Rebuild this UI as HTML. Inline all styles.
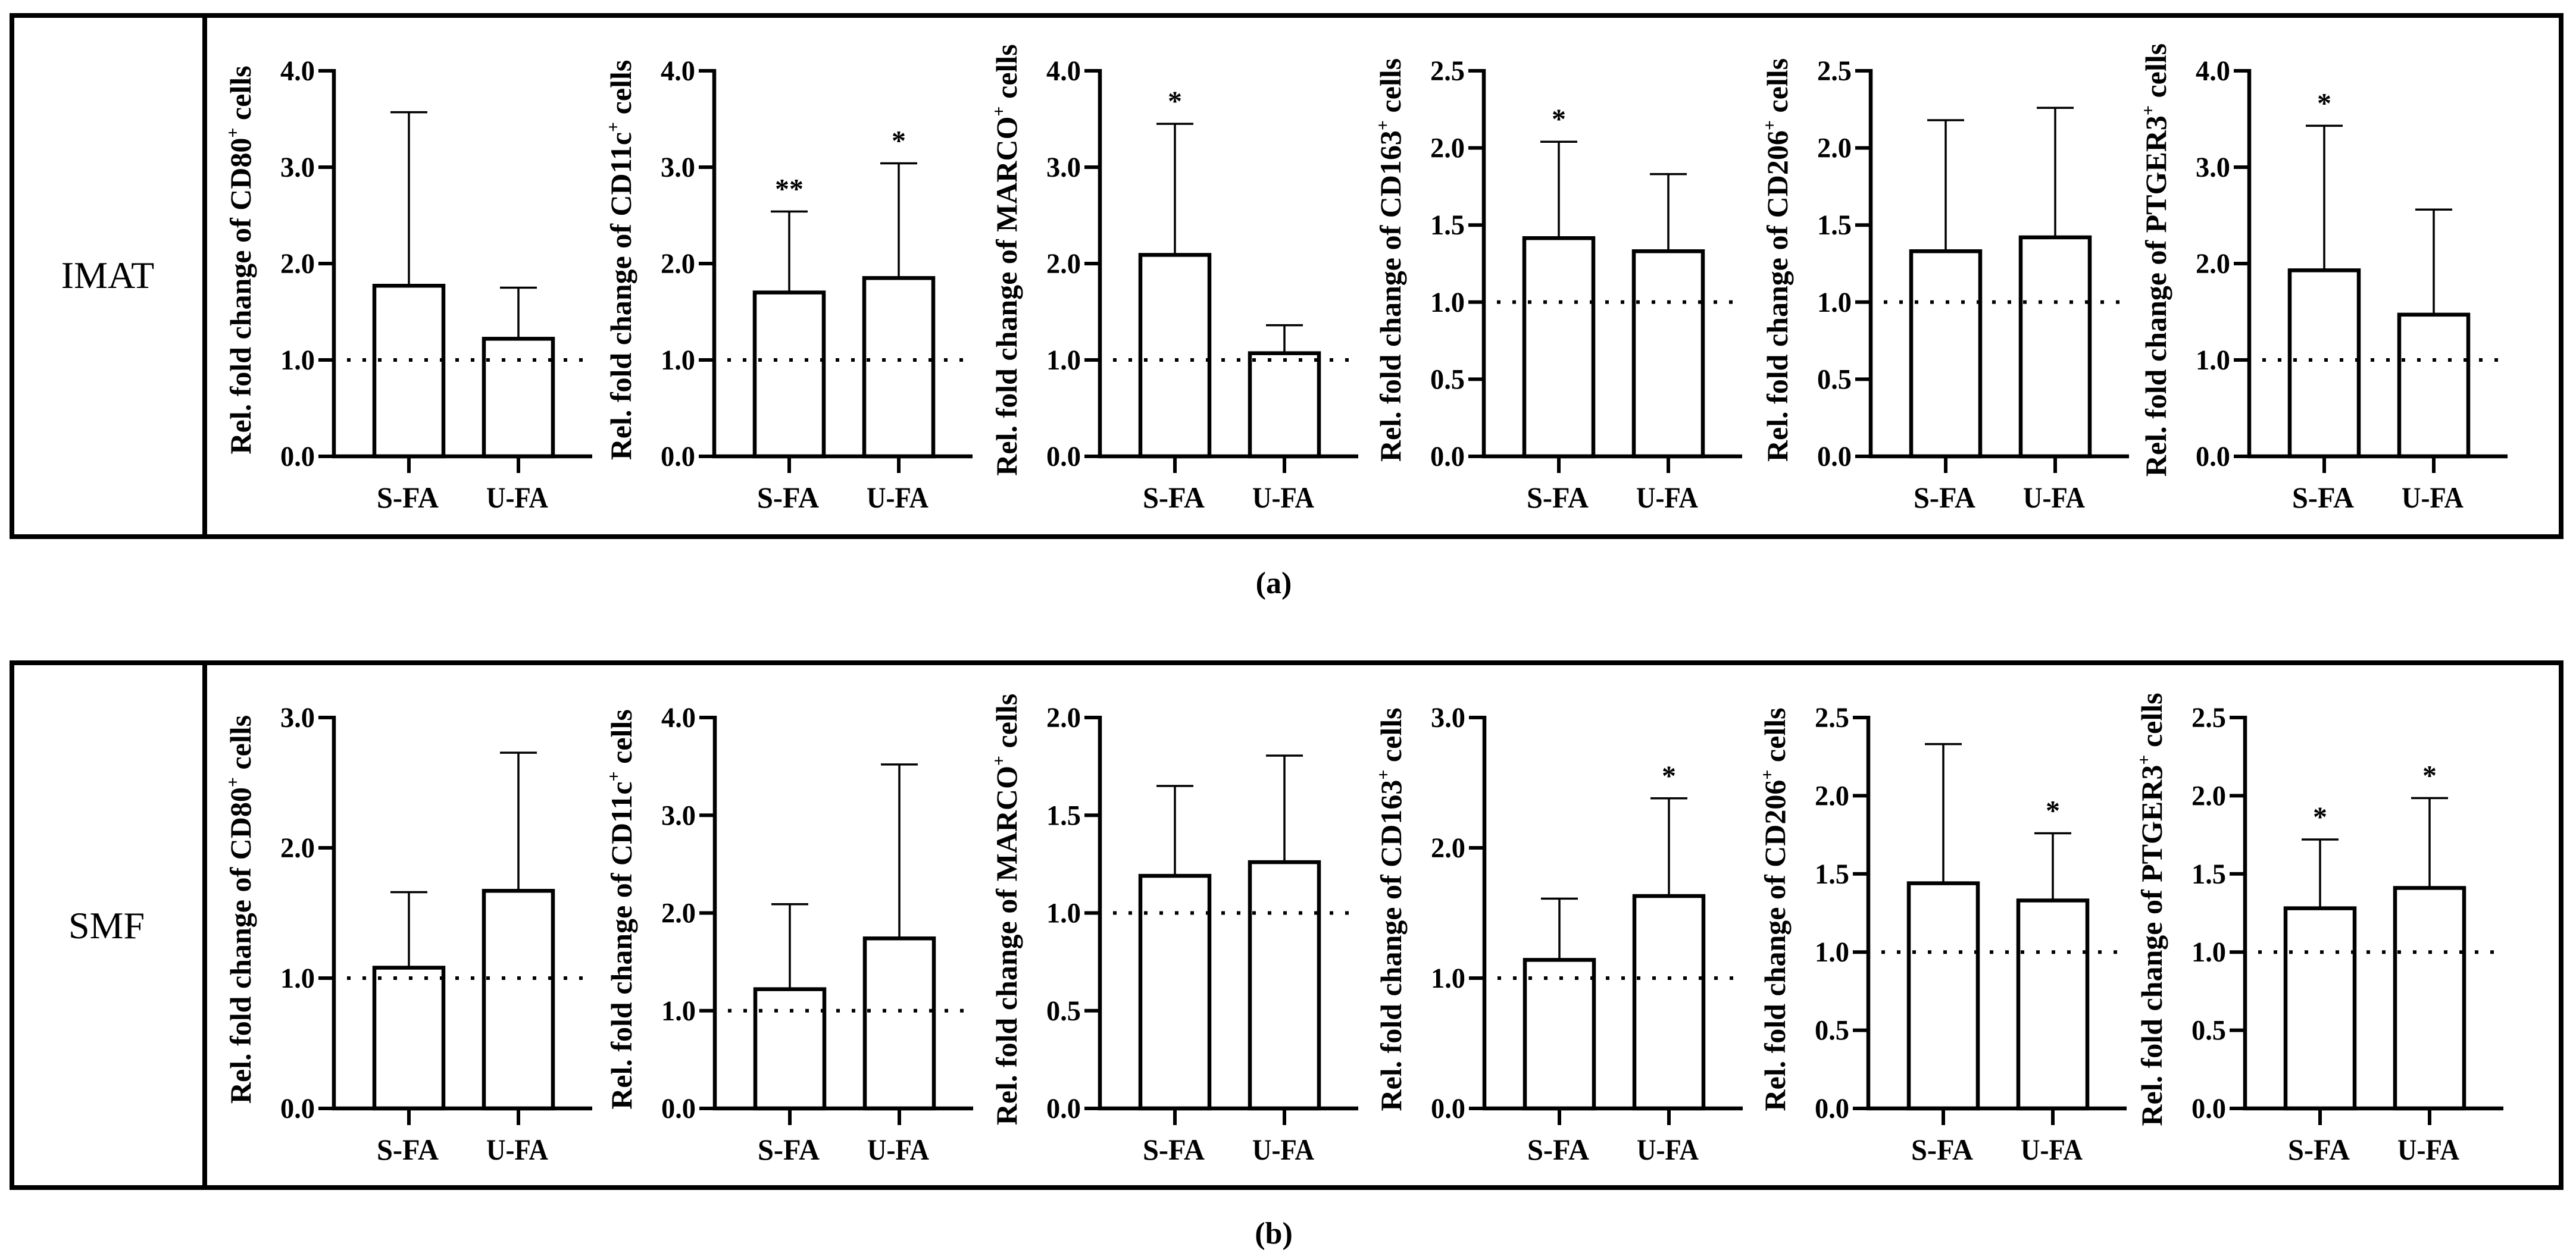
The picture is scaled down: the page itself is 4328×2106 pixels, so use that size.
<!DOCTYPE html>
<html><head><meta charset="utf-8">
<style>
html,body{margin:0;padding:0;background:#fff;}
svg{display:block;}
text{font-family:"Liberation Serif",serif;fill:#000;}
</style></head>
<body>
<svg id="fig" width="4328" height="2106" viewBox="0 0 4328 2106" xmlns="http://www.w3.org/2000/svg">
  <rect x="20" y="26" width="4283" height="876" fill="none" stroke="#000" stroke-width="8"/>
  <line x1="344" y1="26" x2="344" y2="902" stroke="#000" stroke-width="8"/>
  <text x="181" y="484" font-size="64" text-anchor="middle">IMAT</text>
  <text x="2140" y="997" font-size="52" font-weight="bold" text-anchor="middle">(a)</text>
  <rect x="20" y="1114" width="4283" height="882" fill="none" stroke="#000" stroke-width="8"/>
  <line x1="344" y1="1114" x2="344" y2="1996" stroke="#000" stroke-width="8"/>
  <text x="179" y="1577" font-size="64" text-anchor="middle">SMF</text>
  <text x="2140" y="2090" font-size="52" font-weight="bold" text-anchor="middle">(b)</text>
</svg>
<script>
const categories = ["S-FA","U-FA"];
const markers = ["CD80","CD11c","MARCO","CD163","CD206","PTGER3"];
// IMAT row
const imatMeans = [[1.77,1.22],[1.70,1.85],[2.09,1.07],[1.415,1.33],[1.33,1.42],[1.93,1.47]];
const imatErrTop = [[3.57,1.75],[2.54,3.04],[3.45,1.36],[2.04,1.83],[2.18,2.26],[3.43,2.56]];
const imatStars = [["",""],["**","*"],["*",""],["*",""],["",""],["*",""]];
const imatYMax = [4,4,4,2.5,2.5,4];
const imatYStep = [1,1,1,0.5,0.5,1];
// SMF row
const smfMeans = [[1.08,1.67],[1.22,1.74],[1.19,1.26],[1.14,1.63],[1.44,1.33],[1.28,1.41]];
const smfErrTop = [[1.66,2.73],[2.09,3.52],[1.65,1.805],[1.61,2.38],[2.33,1.76],[1.72,1.985]];
const smfStars = [["",""],["",""],["",""],["","*"],["","*"],["*","*"]];
const smfYMax = [3,4,2,3,2.5,2.5];
const smfYStep = [1,1,0.5,1,0.5,0.5];

const NS = "http://www.w3.org/2000/svg";
const svg = document.getElementById("fig");
function mk(tag, attrs, parent){
  const e = document.createElementNS(NS, tag);
  for (const k in attrs) e.setAttribute(k, attrs[k]);
  (parent||svg).appendChild(e);
  return e;
}

function drawRow(rowName, axesX, y0, yTop, means, errs, stars, ymaxs, steps){
  for (let p = 0; p < 6; p++){
    const ax = axesX[p];
    const g = mk("g", {});
    
    
    const ymax = ymaxs[p];
    const yScale = v => y0 - (v / ymax) * (y0 - yTop);
    const xCenter = i => ax + 126 + i * 184;
    const ref = mk("line", {x1: ax + 22, x2: ax + 434, y1: yScale(1), y2: yScale(1), stroke: "#000", "stroke-width": 6, "stroke-dasharray": "6 20"}, g);
    
    
    for (let i = 0; i < 2; i++){
      const cx = xCenter(i);
      const yt = yScale(means[p][i]);
      const ye = yScale(errs[p][i]);
      const err = mk("line", {x1: cx, x2: cx, y1: yt, y2: ye, stroke: "#000", "stroke-width": 3.5}, g);
      
      
      const cap = mk("line", {x1: cx - 31, x2: cx + 31, y1: ye, y2: ye, stroke: "#000", "stroke-width": 3.5}, g);
      
      
      const bar = mk("rect", {x: cx - 58, y: yt, width: 116, height: y0 - yt, fill: "none", stroke: "#000", "stroke-width": 6.5}, g);
      
      
      if (stars[p][i]){
        const st = mk("text", {x: cx, y: ye - 22, "font-size": 48, "font-weight": "bold", "text-anchor": "middle"}, g);
        st.textContent = stars[p][i];
        
        
      }
      const xt = mk("line", {x1: cx, x2: cx, y1: y0, y2: y0 + 28, stroke: "#000", "stroke-width": 6}, g);
      
      
      const xl = mk("text", {x: cx - 2, y: y0 + 86, "font-size": 50, "font-weight": "bold", "text-anchor": "middle", textLength: 104, lengthAdjust: "spacingAndGlyphs"}, g);
      xl.textContent = categories[i];
      
      
    }
    const yAxis = mk("line", {x1: ax, x2: ax, y1: yTop - 3, y2: y0 + 3, stroke: "#000", "stroke-width": 6.5}, g);
    
    
    const xAxis = mk("line", {x1: ax - 3, x2: ax + 434, y1: y0, y2: y0, stroke: "#000", "stroke-width": 6.5}, g);
    
    
    const n = Math.round(ymax / steps[p]);
    for (let k = 0; k <= n; k++){
      const v = k * steps[p];
      const yy = yScale(v);
      const t = mk("line", {x1: ax - 26, x2: ax, y1: yy, y2: yy, stroke: "#000", "stroke-width": 6}, g);
      
      
      const tl = mk("text", {x: ax - 32, y: yy + 16, "font-size": 48, "font-weight": "bold", "text-anchor": "end", textLength: 58, lengthAdjust: "spacingAndGlyphs"}, g);
      tl.textContent = v.toFixed(1);
      
      
    }
    const tx = ax - 140, ty = (y0 + yTop) / 2 - 6;
    const title = mk("text", {x: tx, y: ty, "font-size": 50, "font-weight": "bold", "text-anchor": "middle", transform: "rotate(-90 " + tx + " " + ty + ")"}, g);
    
    
    const t1 = mk("tspan", {}, title);
    t1.textContent = "Rel. fold change of " + markers[p];
    const t2 = mk("tspan", {dy: -20, "font-size": 30}, title);
    t2.textContent = "+";
    const t3 = mk("tspan", {dy: 20}, title);
    t3.textContent = " cells";
  }
}

drawRow("imat", [561,1200,1848,2493,3143,3779], 767, 119, imatMeans, imatErrTop, imatStars, imatYMax, imatYStep);
drawRow("smf", [561,1201,1848,2494,3139,3772], 1863, 1206, smfMeans, smfErrTop, smfStars, smfYMax, smfYStep);
</script>
</body></html>
